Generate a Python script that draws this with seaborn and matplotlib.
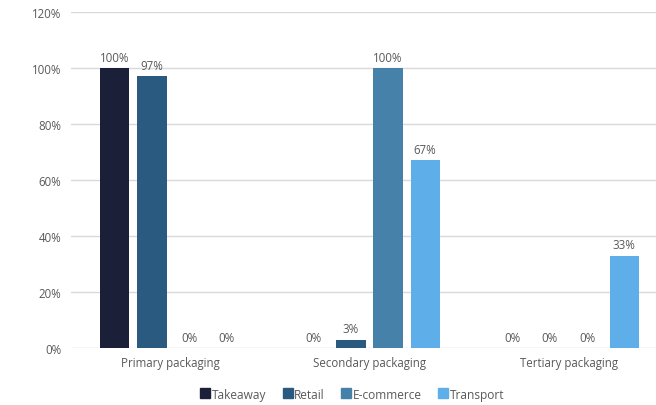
import matplotlib
matplotlib.use("Agg")
import matplotlib.pyplot as plt
from matplotlib.ticker import FuncFormatter
from matplotlib.lines import Line2D
import seaborn as sns
import pandas as pd

categories = ["Primary packaging", "Secondary packaging", "Tertiary packaging"]
channels = ["Takeaway", "Retail", "E-commerce", "Transport"]
takeaway = [100, 0, 0]
retail = [97, 3, 0]
ecommerce = [0, 100, 0]
transport = [0, 67, 33]
yticks = [0, 20, 40, 60, 80, 100, 120]

colors = ["#1b1f38", "#2b5a80", "#4581a8", "#5eaeea"]
text_color = "#595959"

rows = []
for ch, vals in zip(channels, [takeaway, retail, ecommerce, transport]):
    for cat, v in zip(categories, vals):
        rows.append({"category": cat, "channel": ch, "value": v})
df = pd.DataFrame(rows)

sns.set_theme(style="white")
plt.rcParams["font.family"] = ["Open Sans", "DejaVu Sans"]

fig = plt.figure(figsize=(6.56, 4.06), dpi=100)
ax = fig.add_axes([71 / 656, 0.1404, 597 / 656, 0.828])

sns.barplot(data=df, x="category", y="value", hue="channel", order=categories,
            hue_order=channels, palette=colors, width=0.744, gap=0.216,
            saturation=1, legend=False, ax=ax, edgecolor="none")

for container in ax.containers:
    ax.bar_label(container, labels=[f"{v:.0f}%" for v in container.datavalues],
                 padding=3, fontsize=8.3, color=text_color)

ax.set_ylim(0, 120)
ax.set_xlim(-0.5, 2.5)
ax.set_yticks(yticks)
ax.yaxis.set_major_formatter(FuncFormatter(lambda v, p: f"{v:.0f}%"))
ax.grid(axis="y", color="#d9d9d9", linewidth=1)
ax.set_axisbelow(True)
for s in ax.spines.values():
    s.set_visible(False)
ax.set_xlabel("")
ax.set_ylabel("")
ax.tick_params(axis="both", length=0, labelsize=8.3, labelcolor=text_color)
ax.tick_params(axis="y", pad=7)
ax.tick_params(axis="x", pad=6)

handles = [Line2D([0], [0], marker="s", linestyle="none", markersize=7,
                  markerfacecolor=c, markeredgecolor=c) for c in colors]
fig.legend(handles, channels, loc="center", bbox_to_anchor=(0.537, 0.027),
           ncol=4, frameon=False, fontsize=8.6, handletextpad=0.15,
           columnspacing=1.4, handlelength=0.8, labelcolor=text_color)

fig.savefig("out.png", dpi=100)
